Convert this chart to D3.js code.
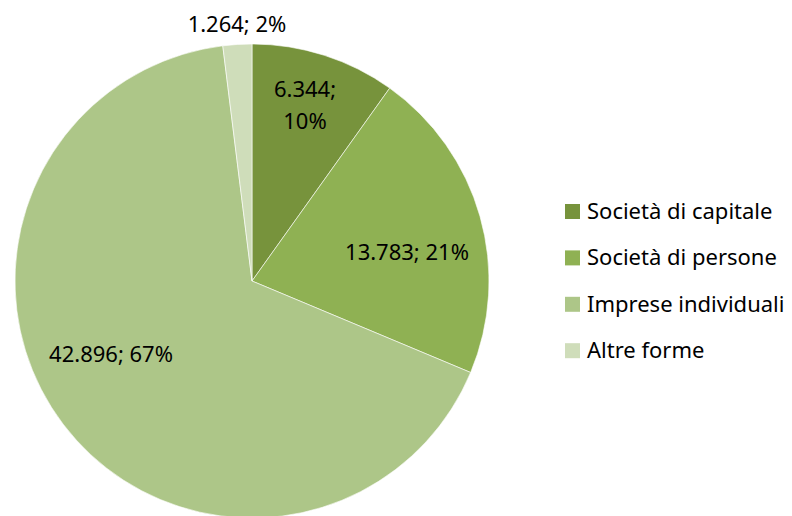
<!DOCTYPE html>
<html><head><meta charset="utf-8">
<script src="https://cdn.jsdelivr.net/npm/d3@7"></script>
<style>body{margin:0;background:#fff}text{font-family:"Noto Sans",sans-serif;fill:#000}</style>
</head><body><svg id="c" width="792" height="516"></svg>
<script>
const categories = ["Società di capitale","Società di persone","Imprese individuali","Altre forme"];
const values = [6344, 13783, 42896, 1264];
const valueLabels = ["6.344","13.783","42.896","1.264"];
const percentLabels = ["10%","21%","67%","2%"];
const colors = ["#77933C","#8FB153","#ADC688","#CFDDBA"];

const svg = d3.select("#c");
const cx = 252, cy = 281, r = 237;
const pie = d3.pie().sort(null).value(d => d)(values);
const arc = d3.arc().innerRadius(0).outerRadius(r);
const g = svg.append("g").attr("transform", `translate(${cx},${cy})`);
g.selectAll("path").data(pie).join("path")
  .attr("d", arc).attr("fill", (d,i) => colors[i])
  .attr("stroke","#fff").attr("stroke-width",0.6);

// label positions (best-fit style, relative to centre)
const fs = 22;
const labelPos = [
  {x: 53, y: [-184, -152]},
  {x: 155, y: [-21]},
  {x: -141, y: [81]},
  {x: -15, y: [-249]}
];
pie.forEach((d,i) => {
  const lines = i === 0 ? [valueLabels[i] + ";", percentLabels[i]] : [valueLabels[i] + "; " + percentLabels[i]];
  const t = g.append("text").attr("text-anchor","middle").style("font-size", fs+"px");
  lines.forEach((s,k) => t.append("tspan").attr("x", labelPos[i].x).attr("y", labelPos[i].y[k]).text(s));
});

// legend
const lg = svg.append("g").attr("transform","translate(565,204)");
const rows = lg.selectAll("g").data(categories).join("g").attr("transform",(d,i)=>`translate(0,${i*46.4})`);
rows.append("rect").attr("width",15).attr("height",15).attr("fill",(d,i)=>colors[i]);
rows.append("text").attr("x",22).attr("y",15).style("font-size",fs+"px").text(d=>d);
</script></body></html>
